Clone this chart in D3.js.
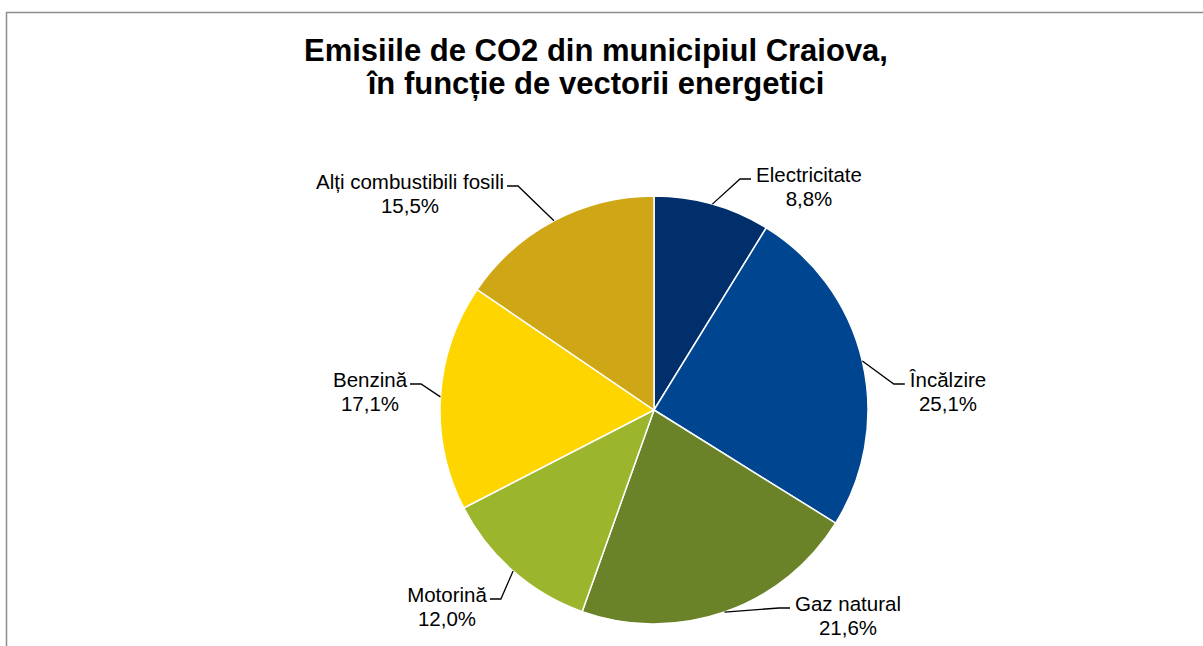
<!DOCTYPE html>
<html>
<head>
<meta charset="utf-8">
<script src="https://cdn.jsdelivr.net/npm/d3@7"></script>
<style>
  html, body { margin: 0; padding: 0; background: #fff; }
  svg { display: block; font-family: "Liberation Sans", Arial, sans-serif; }
</style>
</head>
<body>
<div id="chart"></div>
<script>
// chart data
const categories = ["Electricitate", "Încălzire", "Gaz natural", "Motorină", "Benzină", "Alți combustibili fosili"];
const shares = [8.8, 25.1, 21.6, 12.0, 17.1, 15.5];
const colours = ["#002f6c", "#00458f", "#6a8228", "#9bb52c", "#ffd500", "#cfa615"];
const titleLines = ["Emisiile de CO2 din municipiul Craiova,", "în funcție de vectorii energetici"];

// where each label sits, relative to the pie centre (text centre, first baseline)
const labelOffsets = [[155, -228], [294, -23], [194, 201], [-207, 192], [-284, -23], [-244, -221]];

const width = 1203, height = 646;
const cx = 654, cy = 410, radius = 214;

const svg = d3.select("#chart").append("svg")
    .attr("width", width)
    .attr("height", height);

// chart area border (runs past the bottom and right of the view)
svg.append("rect")
    .attr("x", 6.5).attr("y", 12.5)
    .attr("width", width + 20).attr("height", height + 20)
    .attr("fill", "none")
    .attr("stroke", "#8c8c8c")
    .attr("stroke-width", 1.5);

// title
svg.append("text")
    .attr("x", 596)
    .attr("y", 61)
    .attr("text-anchor", "middle")
    .attr("font-size", 31)
    .attr("font-weight", "bold")
    .attr("fill", "#000")
    .selectAll("tspan")
    .data(titleLines)
    .join("tspan")
    .attr("x", 596)
    .attr("dy", (d, i) => i === 0 ? 0 : 33)
    .text(d => d);

const data = categories.map((c, i) => ({name: c, value: shares[i], colour: colours[i], off: labelOffsets[i]}));

const pie = d3.pie()
    .sort(null)
    .value(d => d.value);

const arc = d3.arc()
    .innerRadius(0)
    .outerRadius(radius);

const arcs = pie(data);

const g = svg.append("g")
    .attr("transform", `translate(${cx},${cy})`);

g.selectAll("path.slice")
    .data(arcs)
    .join("path")
    .attr("class", "slice")
    .attr("d", arc)
    .attr("fill", d => d.data.colour)
    .attr("stroke", "#fff")
    .attr("stroke-width", 1.5);

const fmt = v => v.toFixed(1).replace(".", ",") + "%";

// labels
const labels = g.selectAll("g.label")
    .data(arcs)
    .join("g")
    .attr("class", "label");

labels.append("text")
    .attr("text-anchor", "middle")
    .attr("font-size", 20.5)
    .attr("fill", "#000")
    .each(function(d) {
        const t = d3.select(this);
        t.append("tspan").attr("class", "l1").attr("x", d.data.off[0]).attr("y", d.data.off[1]).text(d.data.name);
        t.append("tspan").attr("x", d.data.off[0]).attr("y", d.data.off[1] + 24).text(fmt(d.data.value));
    });

// leader lines: from the slice edge at its mid angle to an elbow next to the label
labels.each(function(d) {
    const el = d3.select(this);
    const w = el.select("tspan.l1").node().getComputedTextLength();
    const mid = (d.startAngle + d.endAngle) / 2;
    const p0 = [radius * Math.sin(mid), -radius * Math.cos(mid)];
    const right = d.data.off[0] > 0;
    const ly = d.data.off[1] - 3;
    const endX = right ? d.data.off[0] - w / 2 - 5 : d.data.off[0] + w / 2 + 3;
    const elbowX = right ? endX - 11 : endX + 11;
    el.append("path")
        .attr("d", d3.line()([p0, [elbowX, ly], [endX, ly]]))
        .attr("fill", "none")
        .attr("stroke", "#000")
        .attr("stroke-width", 1.3);
});
</script>
</body>
</html>
